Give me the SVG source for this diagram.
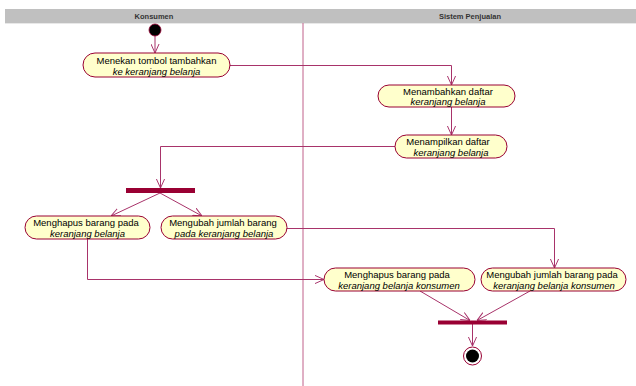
<svg xmlns="http://www.w3.org/2000/svg" width="636" height="386" viewBox="0 0 636 386">
  <style>
    .lane-title { font-family: "Liberation Sans", Arial, sans-serif; font-size: 7.5px; font-weight: bold; fill: #333; text-anchor: middle; }
    .act { fill: #FFFFCC; stroke: #990033; stroke-width: 1; }
    .lbl { font-family: "Liberation Sans", Arial, sans-serif; font-size: 9.5px; fill: #000; text-anchor: middle; }
    .it { font-style: italic; }
    .bar { fill: #990033; }
    .flow { fill: none; stroke: #A8336A; stroke-width: 1; marker-end: url(#open); }
  </style>
  <defs>
    <marker id="open" viewBox="0 0 10 10" refX="10" refY="5" markerWidth="9" markerHeight="9" markerUnits="userSpaceOnUse" orient="auto">
      <path d="M0,0.5 L10,5 L0,9.5" fill="none" stroke="#A8336A" stroke-width="1.1"/>
    </marker>
  </defs>

  <rect width="636" height="386" fill="#FFFFFF"/>

  <!-- swimlane header and divider -->
  <g id="lanes">
    <rect x="5" y="9" width="631" height="14" fill="#C0C0C0"/>
    <line x1="5" y1="23.5" x2="636" y2="23.5" stroke="#E8E8E8" stroke-width="1"/>
    <text class="lane-title" x="154" y="19">Konsumen</text>
    <text class="lane-title" x="470" y="19">Sistem Penjualan</text>
    <line x1="303" y1="23" x2="303" y2="386" stroke="#C0608A" stroke-width="1"/>
  </g>

  <!-- connectors -->
  <g id="connectors">
    <path class="flow" d="M155,36 L155,53"/>
    <path class="flow" d="M230,65.5 L451.5,65.5 L451.5,85"/>
    <path class="flow" d="M451.5,107 L451.5,135"/>
    <path class="flow" d="M395,146.5 L160.5,146.5 L160.5,188"/>
    <path class="flow" d="M160,193 L111,216"/>
    <path class="flow" d="M160,193 L202,216"/>
    <path class="flow" d="M87.5,239 L87.5,279.5 L324,279.5"/>
    <path class="flow" d="M287,228.5 L554.5,228.5 L554.5,268"/>
    <path class="flow" d="M420,291 L470,320.5"/>
    <path class="flow" d="M530,291 L477,320.5"/>
    <path class="flow" d="M472.5,324 L472.5,346"/>
  </g>

  <!-- start -->
  <g id="start">
    <circle cx="155" cy="30" r="6" fill="#000" stroke="#990033" stroke-width="0.8"/>
  </g>

  <g id="n1">
    <rect class="act" x="83" y="53" width="147" height="24" rx="12"/>
    <text class="lbl" x="156.5" y="63.5">Menekan tombol tambahkan</text>
    <text class="lbl it" x="156.5" y="74.5">ke keranjang belanja</text>
  </g>

  <g id="n2">
    <rect class="act" x="378" y="85" width="137" height="22" rx="11"/>
    <text class="lbl" x="448" y="95">Menambahkan daftar</text>
    <text class="lbl it" x="448" y="105">keranjang belanja</text>
  </g>

  <g id="n3">
    <rect class="act" x="395" y="135" width="112" height="23" rx="11.5"/>
    <text class="lbl" x="448" y="145">Menampilkan daftar</text>
    <text class="lbl it" x="451" y="156">keranjang belanja</text>
  </g>

  <g id="fork">
    <rect class="bar" x="126" y="188" width="69" height="5"/>
  </g>

  <g id="n4">
    <rect class="act" x="25" y="216" width="125" height="23" rx="11.5"/>
    <text class="lbl" x="86" y="226">Menghapus barang pada</text>
    <text class="lbl it" x="87.5" y="237">keranjang belanja</text>
  </g>

  <g id="n5">
    <rect class="act" x="161" y="216" width="126" height="23" rx="11.5"/>
    <text class="lbl" x="223" y="226">Mengubah jumlah barang</text>
    <text class="lbl it" x="224" y="237">pada keranjang belanja</text>
  </g>

  <g id="n6">
    <rect class="act" x="324" y="268" width="151" height="23" rx="11.5"/>
    <text class="lbl" x="397" y="278">Menghapus barang pada</text>
    <text class="lbl it" x="399" y="289">keranjang belanja konsumen</text>
  </g>

  <g id="n7">
    <rect class="act" x="481" y="268" width="145" height="23" rx="11.5"/>
    <text class="lbl" x="552" y="278">Mengubah jumlah barang pada</text>
    <text class="lbl it" x="554" y="289">keranjang belanja konsumen</text>
  </g>

  <g id="join">
    <rect class="bar" x="438" y="320.5" width="69" height="4"/>
  </g>

  <g id="end">
    <circle cx="472.5" cy="356" r="9" fill="#FFFFFF" stroke="#990033" stroke-width="1"/>
    <circle cx="472.5" cy="356" r="6.5" fill="#000"/>
  </g>
</svg>
